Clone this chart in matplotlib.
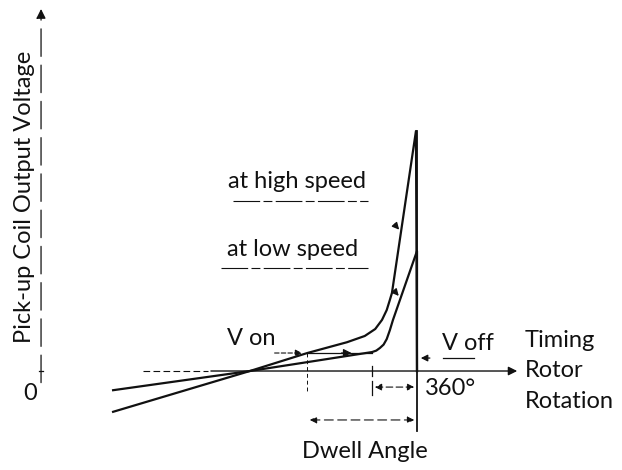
"""Pick-up coil output voltage vs. timing rotor rotation (schematic)."""

import matplotlib.pyplot as plt
import numpy as np

# rotor angle (deg) and coil voltage (arbitrary units)
high_angle = [69, 200, 255, 293, 310, 320, 326.5, 331, 334, 336, 359, 360]
high_volt = [-1.7, 0, 0.75, 1.2, 1.46, 1.75, 2.13, 2.54, 2.96, 3.25, 10.0, 0]

low_angle = [69, 200, 255, 317, 321, 324.5, 328, 331, 334, 337, 360, 360]
low_volt = [-0.8, 0, 0.37, 0.79, 0.85, 0.96, 1.1, 1.33, 1.7, 2.13, 5.0, 0]

v_on_level = 0.75
on_angle_high = 254.7
on_angle_low = 317
off_angle = 360

FONT = "Lato"
INK = "#111111"


def main():
    fig = plt.figure(figsize=(6.22, 4.70), dpi=100)
    ax = fig.add_axes([0, 0, 1, 1])
    ax.set_xlim(-39.3, 556.3)
    ax.set_ylim(-4.125, 15.46)
    ax.axis("off")

    # axes drawn by hand, like the original sketch
    ax.annotate("", xy=(0, 15.2), xytext=(0, -0.6),
                arrowprops=dict(arrowstyle="-|>", lw=0.9, color=INK,
                                linestyle=(0, (22, 7)), mutation_scale=14))
    ax.plot([-1.5, 1.5], [0, 0], color=INK, lw=0.9)
    ax.plot([98, 160], [0, 0], color=INK, lw=0.8, linestyle=(0, (6, 3)))
    ax.annotate("", xy=(458.6, 0), xytext=(160, 0),
                arrowprops=dict(arrowstyle="-|>", lw=1.0, color=INK,
                                mutation_scale=13))

    # the two waveforms
    ax.plot(high_angle, high_volt, color=INK, lw=1.6, solid_joinstyle="round")
    ax.plot(low_angle, low_volt, color=INK, lw=1.6, solid_joinstyle="round")
    ax.plot([off_angle, off_angle], [10.0, -2.5], color=INK, lw=1.3)

    # small arrows pointing at each curve
    for ang, volt, v_tip in [(high_angle, high_volt, 5.8), (low_angle, low_volt, 3.04)]:
        a_tip = np.interp(v_tip, volt[9:11], ang[9:11])
        ax.annotate("", xy=(a_tip, v_tip), xytext=(a_tip - 8, v_tip + 0.4),
                    arrowprops=dict(arrowstyle="-|>", lw=1.0, color=INK,
                                    mutation_scale=10))

    # V on markers
    ax.annotate("", xy=(on_angle_high - 2, v_on_level), xytext=(221, v_on_level),
                arrowprops=dict(arrowstyle="-|>", lw=0.8, color=INK,
                                linestyle=(0, (4, 2)), mutation_scale=10))
    ax.plot([on_angle_high, on_angle_low], [v_on_level, v_on_level], color=INK, lw=0.9)
    ax.annotate("", xy=(300, v_on_level), xytext=(285, v_on_level),
                arrowprops=dict(arrowstyle="-|>", lw=0.9, color=INK,
                                mutation_scale=12))
    ax.plot([on_angle_high, on_angle_high], [v_on_level, -0.9], color=INK, lw=0.7,
            linestyle=(0, (4, 3)))
    ax.plot([on_angle_low, on_angle_low], [0.2, -0.2], color=INK, lw=0.9)
    ax.plot([on_angle_low, on_angle_low], [-0.4, -1.0], color=INK, lw=0.9)

    # angle spans
    ax.annotate("", xy=(off_angle, -0.67), xytext=(on_angle_low, -0.67),
                arrowprops=dict(arrowstyle="<|-|>", lw=0.8, color=INK,
                                linestyle=(0, (6, 3)), mutation_scale=10))
    ax.annotate("", xy=(off_angle, -2.04), xytext=(on_angle_high, -2.04),
                arrowprops=dict(arrowstyle="<|-|>", lw=0.8, color=INK,
                                linestyle=(0, (8, 4)), mutation_scale=10))

    # V off marker
    ax.annotate("", xy=(off_angle + 1, 0.54), xytext=(375, 0.54),
                arrowprops=dict(arrowstyle="-|>", lw=0.9, color=INK,
                                mutation_scale=10))
    ax.plot([385, 415], [0.54, 0.54], color=INK, lw=0.9)

    # labels (baseline aligned)
    txt = dict(fontsize=17, family=FONT, color=INK, va="baseline")
    ax.text(179, 7.62, "at high speed", ha="left", **txt)
    ax.plot([184, 313], [7.08, 7.08], color=INK, lw=0.8, linestyle=(0, (24, 3, 8, 3)))
    ax.text(178, 4.79, "at low speed", ha="left", **txt)
    ax.plot([172, 313], [4.3, 4.3], color=INK, lw=0.8, linestyle=(0, (24, 3, 8, 3)))
    ax.text(178, 1.08, "V on", ha="left", **txt)
    ax.text(384, 0.88, "V off", ha="left", **txt)
    ax.text(463, 1.0, "Timing", ha="left", **txt)
    ax.text(463, -0.25, "Rotor", ha="left", **txt)
    ax.text(463, -1.54, "Rotation", ha="left", **txt)
    ax.text(367.6, -1.0, "360°", ha="left", **txt)
    ax.text(310, -3.62, "Dwell Angle", ha="center", **txt)
    ax.text(-10.5, -1.21, "0", ha="center", **txt)
    ax.text(-16.3, 7.25, "Pick-up Coil Output Voltage", ha="center", va="center",
            rotation=90, fontsize=17, family=FONT, color=INK)

    fig.savefig("out.png", dpi=100)
    plt.close(fig)


if __name__ == "__main__":
    main()
